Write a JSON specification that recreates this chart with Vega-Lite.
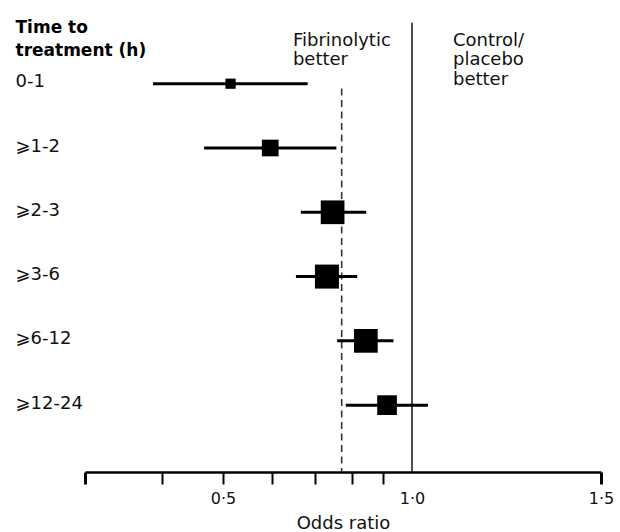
{
  "$schema": "https://vega.github.io/schema/vega-lite/v6.json",
  "width": 516,
  "height": 450,
  "autosize": {"type": "none"},
  "padding": {"left": 85, "top": 22, "right": 19, "bottom": 60},
  "config": {
    "view": {"stroke": null},
    "font": "DejaVu Sans",
    "text": {"font": "DejaVu Sans"}
  },
  "resolve": {"scale": {"y": "independent"}, "axis": {"y": "independent"}},
  "layer": [
    {
      "layer": [
        {
          "data": {"values": [{"ref": 1}]},
          "mark": {"type": "rule", "color": "#222", "strokeWidth": 1.6},
          "encoding": {
            "x": {"field": "ref", "type": "quantitative", "title": "Odds ratio"},
            "y": {"datum": -0.01, "type": "quantitative", "scale": {"domain": [-0.022, 7.11], "reverse": true, "nice": false, "zero": false}, "axis": null},
            "y2": {"datum": 7.11}
          }
        },
        {
          "data": {"values": [{"pooled": 0.814}]},
          "mark": {"type": "rule", "color": "#333", "strokeWidth": 1.6, "strokeDash": [7, 4.5]},
          "encoding": {
            "x": {"field": "pooled", "type": "quantitative", "title": "Odds ratio"},
            "y": {"datum": 1.03, "type": "quantitative", "scale": {"domain": [-0.022, 7.11], "reverse": true, "nice": false, "zero": false}, "axis": null},
            "y2": {"datum": 7.11}
          }
        },
        {
          "data": {"values": [{"label": ["Fibrinolytic", "better"]}]},
          "mark": {"type": "text", "align": "left", "baseline": "alphabetic", "fontSize": 18, "lineHeight": 19.5, "color": "#111"},
          "encoding": {
            "text": {"field": "label"},
            "x": {"datum": 0.685, "type": "quantitative"},
            "y": {"datum": 0.358, "type": "quantitative", "scale": {"domain": [-0.022, 7.11], "reverse": true, "nice": false, "zero": false}, "axis": null}
          }
        },
        {
          "data": {"values": [{"label": ["Control/", "placebo", "better"]}]},
          "mark": {"type": "text", "align": "left", "baseline": "alphabetic", "fontSize": 18, "lineHeight": 19.5, "color": "#111"},
          "encoding": {
            "text": {"field": "label"},
            "x": {"datum": 1.1085, "type": "quantitative"},
            "y": {"datum": 0.358, "type": "quantitative", "scale": {"domain": [-0.022, 7.11], "reverse": true, "nice": false, "zero": false}, "axis": null}
          }
        }
      ]
    },
    {
      "data": {
        "values": [
          {"time": "0-1", "or": 0.52, "lo": 0.315, "hi": 0.724, "weight": 10.4},
          {"time": "⩾1-2", "or": 0.625, "lo": 0.45, "hi": 0.80, "weight": 27.9},
          {"time": "⩾2-3", "or": 0.79, "lo": 0.706, "hi": 0.879, "weight": 56.2},
          {"time": "⩾3-6", "or": 0.775, "lo": 0.693, "hi": 0.855, "weight": 57.6},
          {"time": "⩾6-12", "or": 0.878, "lo": 0.802, "hi": 0.951, "weight": 56.2},
          {"time": "⩾12-24", "or": 0.934, "lo": 0.825, "hi": 1.042, "weight": 38.8}
        ]
      },
      "encoding": {
        "y": {
          "field": "time",
          "type": "ordinal",
          "sort": null,
          "scale": {"type": "point", "padding": 1.066, "align": 0.48},
          "axis": {
            "title": ["Time to", "treatment (h)"],
            "titleAngle": 0,
            "titleAlign": "left",
            "titleBaseline": "alphabetic",
            "titleX": -70,
            "titleY": 10,
            "titleLineHeight": 23,
            "titleFont": "DejaVu Sans",
            "titleFontSize": 17,
            "titleFontWeight": "bold",
            "titleColor": "#000",
            "domain": false,
            "ticks": false,
            "labelAlign": "left",
            "labelPadding": 70,
            "labelFont": "DejaVu Sans",
            "labelFontSize": 18,
            "labelColor": "#111",
            "labelOffset": -2
          }
        }
      },
      "layer": [
        {
          "mark": {"type": "rule", "color": "#000", "strokeWidth": 3},
          "encoding": {
            "x": {
              "field": "lo",
              "type": "quantitative",
              "title": "Odds ratio",
              "scale": {"domain": [0.135, 1.5], "nice": false, "zero": false},
              "axis": {
                "values": [0.135, 0.338, 0.5, 0.629, 0.743, 0.841, 0.922, 1, 1.5],
                "labelExpr": "indexof([0.5, 1, 1.5], datum.value) >= 0 ? replace(format(datum.value, '.1f'), '.', '·') : ''",
                "grid": false,
                "domainColor": "#000",
                "domainWidth": 2.5,
                "tickColor": "#000",
                "tickSize": 12,
                "tickWidth": {"condition": {"test": "datum.value < 0.2 || datum.value > 1.4", "value": 3}, "value": 2},
                "tickOpacity": {"condition": {"test": "datum.value == 1", "value": 0}, "value": 1},
                "labelFont": "DejaVu Sans",
                "labelFontSize": 16,
                "labelColor": "#111",
                "labelPadding": 6,
                "labelFlush": false,
                "labelOverlap": false,
                "labelBound": false,
                "titleFont": "DejaVu Sans",
                "titleFontSize": 18,
                "titleFontWeight": "normal",
                "titleColor": "#111",
                "titlePadding": 8
              }
            },
            "x2": {"field": "hi"}
          }
        },
        {
          "mark": {"type": "point", "shape": "square", "filled": true, "opacity": 1, "color": "#000", "strokeWidth": 0},
          "encoding": {
            "x": {"field": "or", "type": "quantitative", "title": "Odds ratio"},
            "size": {"field": "weight", "type": "quantitative", "scale": {"domain": [0, 60], "range": [0, 600], "zero": true}, "legend": null}
          }
        }
      ]
    }
  ]
}
